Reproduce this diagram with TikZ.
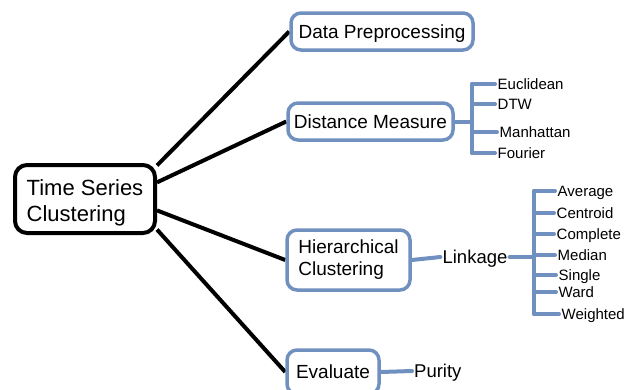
\documentclass[tikz,border=0pt]{standalone}
\usepackage{fontspec}
\setmainfont{Liberation Sans}
\usetikzlibrary{backgrounds}
\definecolor{bblue}{RGB}{112,144,192}
\begin{document}
\begin{tikzpicture}[x=1pt,y=-1pt,
 rootbox/.style={draw=black, line width=4pt, rounded corners=12pt, fill=white, minimum width=140pt, minimum height=68pt, inner sep=0pt},
 roottext/.style={align=left, font=\fontsize{22}{26}\selectfont, inner sep=0pt},
 bluebox/.style={draw=bblue, line width=3.5pt, rounded corners=10pt, fill=white, inner sep=0pt, font=\fontsize{19}{22}\selectfont},
 one/.style={text height=13.6pt, text depth=0pt},
 leaf/.style={anchor=west, inner sep=2.5pt, font=\fontsize{15}{18}\selectfont, text height=10.7pt, text depth=0pt},
 mid/.style={inner sep=2pt, font=\fontsize{18.5}{22}\selectfont, text height=13.2pt, text depth=0pt},
 blk/.style={line width=4pt, draw=black},
 bl/.style={line width=4pt, draw=bblue, line cap=round}]
\useasboundingbox (0,0) rectangle (627,389);
\clip (0,0) rectangle (627,389);
% main nodes
\node[rootbox] (root) at (85,199) {};
\node[roottext] (roottxt) at (85,203) {Time Series\\Clustering};
\node[bluebox, one, minimum width=182pt, minimum height=37pt] (dp) at (382,31.5) {Data Preprocessing};
\node[bluebox, one, minimum width=165pt, minimum height=37pt] (dm) at (370.5,121.5) {Distance Measure};
\node[bluebox, minimum width=123pt, minimum height=60pt, align=left] (hc) at (348.5,260) {Hierarchical\\Clustering};
\node[bluebox, one, minimum width=92pt, minimum height=44pt] (ev) at (333,372) {Evaluate};
\node[mid] (lk) at (475,257) {Linkage};
\node[mid, anchor=west] (pu) at (412,371) {Purity};
% distance leaves
\node[leaf] (eu) at (495,84) {Euclidean};
\node[leaf] (dt) at (495,104) {DTW};
\node[leaf] (ma) at (497,132) {Manhattan};
\node[leaf] (fo) at (495,153) {Fourier};
% linkage leaves
\node[leaf] (av) at (555,191) {Average};
\node[leaf] (ce) at (554,213) {Centroid};
\node[leaf] (co) at (554,234) {Complete};
\node[leaf] (me) at (555,255) {Median};
\node[leaf] (si) at (556,275) {Single};
\node[leaf] (wa) at (556,292) {Ward};
\node[leaf] (we) at (559,314) {Weighted};
\coordinate (dmb) at (472,121.5);
\coordinate (lkb) at (534,257);
\begin{scope}[on background layer]
\draw[blk] (root.25) -- (dp.west);
\draw[blk] (root.13) -- (dm.west);
\draw[blk] (root.-9) -- (hc.west);
\draw[blk] (root.-23) -- (ev.west);
\draw[bl] (dm.east) -- (dmb);
\draw[bl] (dmb |- eu.west) -- (dmb |- fo.west);
\foreach \n in {eu,dt,ma,fo} \draw[bl] (dmb |- \n.west) -- (\n.west);
\draw[bl] (hc.east) -- (lk.west);
\draw[bl] (lk.east) -- (lkb);
\draw[bl] (lkb |- av.west) -- (lkb |- we.west);
\foreach \n in {av,ce,co,me,si,wa,we} \draw[bl] (lkb |- \n.west) -- (\n.west);
\draw[bl] (ev.east) -- (pu.west);
\end{scope}
\end{tikzpicture}
\end{document}
